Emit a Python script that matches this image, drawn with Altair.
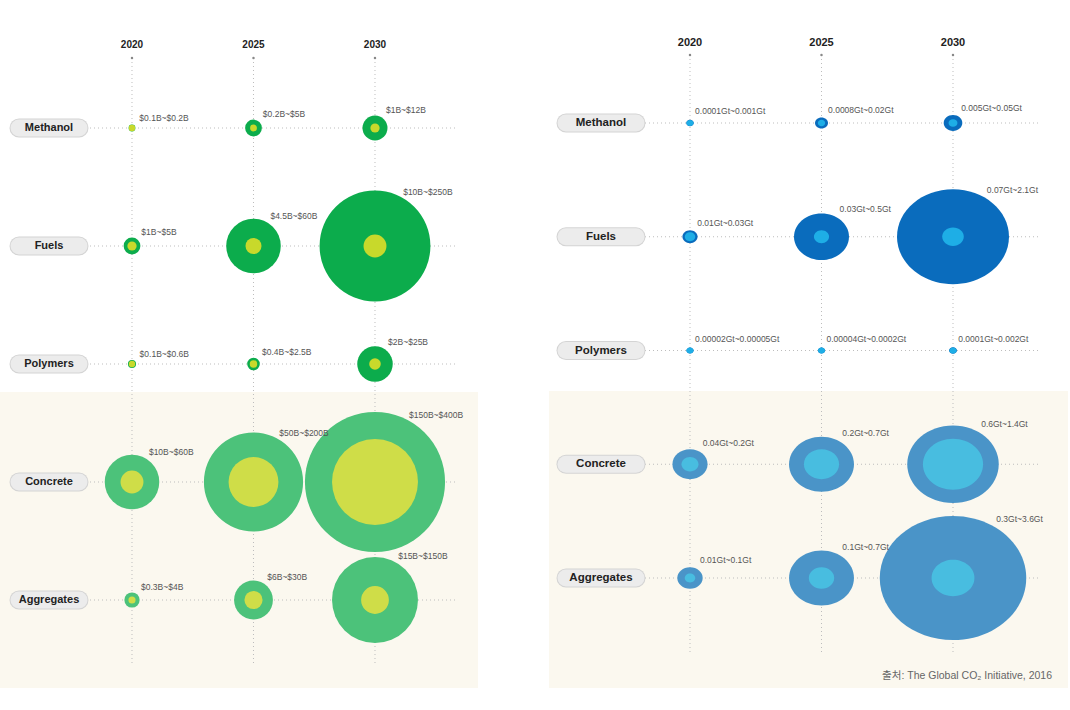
import altair as alt
import pandas as pd

products = ["Methanol", "Fuels", "Polymers", "Concrete", "Aggregates"]
groups = ["top", "top", "top", "bottom", "bottom"]
years = [2020, 2025, 2030]

market_min = [[0.1, 0.2, 1], [1, 4.5, 10], [0.1, 0.4, 2], [10, 50, 150], [0.3, 6, 15]]
market_max = [[0.2, 5, 12], [5, 60, 250], [0.6, 2.5, 25], [60, 200, 400], [4, 30, 150]]
market_labels = [
    ["$0.1B~$0.2B", "$0.2B~$5B", "$1B~$12B"],
    ["$1B~$5B", "$4.5B~$60B", "$10B~$250B"],
    ["$0.1B~$0.6B", "$0.4B~$2.5B", "$2B~$25B"],
    ["$10B~$60B", "$50B~$200B", "$150B~$400B"],
    ["$0.3B~$4B", "$6B~$30B", "$15B~$150B"],
]

co2_min = [[0.0001, 0.0008, 0.005], [0.01, 0.03, 0.07], [0.00002, 0.00004, 0.0001],
           [0.04, 0.2, 0.6], [0.01, 0.1, 0.3]]
co2_max = [[0.001, 0.02, 0.05], [0.03, 0.5, 2.1], [0.00005, 0.0002, 0.002],
           [0.2, 0.7, 1.4], [0.1, 0.7, 3.6]]
co2_labels = [
    ["0.0001Gt~0.001Gt", "0.0008Gt~0.02Gt", "0.005Gt~0.05Gt"],
    ["0.01Gt~0.03Gt", "0.03Gt~0.5Gt", "0.07Gt~2.1Gt"],
    ["0.00002Gt~0.00005Gt", "0.00004Gt~0.0002Gt", "0.0001Gt~0.002Gt"],
    ["0.04Gt~0.2Gt", "0.2Gt~0.7Gt", "0.6Gt~1.4Gt"],
    ["0.01Gt~0.1Gt", "0.1Gt~0.7Gt", "0.3Gt~3.6Gt"],
]

source_note = "출처: The Global CO₂ Initiative, 2016"

FONT = "Liberation Sans, Arial, Noto Sans CJK KR, sans-serif"
ELLIPSE = "M -1.18 0 A 1.18 1 0 1 0 1.18 0 A 1.18 1 0 1 0 -1.18 0 Z"


def build_df(mins, maxs, labels):
    rows = []
    for i, p in enumerate(products):
        for j, y in enumerate(years):
            rows.append(dict(product=p, row=i, group=groups[i], year=y,
                             vmin=mins[i][j], vmax=maxs[i][j], label=labels[i][j]))
    return pd.DataFrame(rows)


def panel(df, W, H, xdom, ydom, size_max, size_range, colors, pill, hgrid, vgrid,
          year_y, beige, dx_expr, dy_expr, year_font, pill_font, shape="circle", extra=None):
    xs = alt.Scale(domain=xdom, range=[0, W], zero=False, nice=False)
    ys = alt.Scale(domain=ydom, range=[0, H], zero=False, nice=False)
    X = alt.X("year:Q", scale=xs, axis=None)
    Y = alt.Y("row:Q", scale=ys, axis=None)
    size_scale = alt.Scale(domain=[0, size_max], range=size_range, zero=True, nice=False)
    color_scale = alt.Scale(domain=["outer_top", "outer_bottom", "inner_top", "inner_bottom"],
                            range=colors)

    one = pd.DataFrame({"k": [0]})
    prod_df = pd.DataFrame({"product": products, "row": list(range(len(products)))})
    year_df = pd.DataFrame({"year": years})

    bg = alt.Chart(one).mark_rect(color="#fbf8ef").encode(
        x=alt.value(beige[0]), x2=alt.value(beige[1]),
        y=alt.value(beige[2]), y2=alt.value(beige[3]))

    hlines = alt.Chart(prod_df).mark_rule(color="#bdbdbd", strokeDash=[1, 3], strokeWidth=1).encode(
        y=Y, x=alt.value(hgrid[0]), x2=alt.value(hgrid[1]))
    vlines = alt.Chart(year_df).mark_rule(color="#bdbdbd", strokeDash=[1, 3], strokeWidth=1).encode(
        x=X, y=alt.value(vgrid[0]), y2=alt.value(vgrid[1]))
    dots = alt.Chart(year_df).mark_point(filled=True, color="#888", size=6, opacity=1).encode(
        x=X, y=alt.value(vgrid[0]))
    year_text = alt.Chart(year_df).mark_text(fontWeight="bold", fontSize=year_font, color="#222",
                                             font=FONT).encode(
        x=X, y=alt.value(year_y), text="year:N")

    pill_shadow = alt.Chart(prod_df).mark_rule(color="#d4d4d4", strokeWidth=19, strokeCap="round").encode(
        y=Y, x=alt.value(pill[0] + 9), x2=alt.value(pill[1] - 9))
    pill_body = alt.Chart(prod_df).mark_rule(color="#ececec", strokeWidth=17, strokeCap="round").encode(
        y=Y, x=alt.value(pill[0] + 9), x2=alt.value(pill[1] - 9))
    pill_text = alt.Chart(prod_df).mark_text(fontWeight="bold", fontSize=pill_font, color="#222",
                                             font=FONT).encode(
        y=Y, x=alt.value((pill[0] + pill[1]) / 2), text="product:N")

    outer = alt.Chart(df).transform_calculate(tier="'outer_' + datum.group").mark_point(
        shape=shape, filled=True, opacity=1, strokeWidth=0).encode(
        x=X, y=Y,
        size=alt.Size("vmax:Q", scale=size_scale, legend=None),
        color=alt.Color("tier:N", scale=color_scale, legend=None))
    inner = alt.Chart(df).transform_calculate(tier="'inner_' + datum.group").mark_point(
        shape=shape, filled=True, opacity=1, strokeWidth=0).encode(
        x=X, y=Y,
        size=alt.Size("vmin:Q", scale=size_scale, legend=None),
        color=alt.Color("tier:N", scale=color_scale, legend=None))
    labels = alt.Chart(df).mark_text(align="left", baseline="middle", fontSize=8.5, color="#555",
                                     font=FONT, dx=alt.expr(dx_expr), dy=alt.expr(dy_expr)).encode(
        x=X, y=Y, text="label:N")

    layers = [bg, hlines, vlines, dots, year_text, pill_shadow, pill_body, pill_text, outer, inner, labels]
    if extra is not None:
        layers.append(extra)
    return alt.layer(*layers).properties(width=W, height=H)


left_df = build_df(market_min, market_max, market_labels)
right_df = build_df(co2_min, co2_max, co2_labels)

H = 710
LW = 478
RW = 522

# Vega symbols: radius = sqrt(size) / 2
left_r = "(sqrt(36 + datum.vmax * 19600 / 400) / 2)"
left = panel(
    left_df, LW, H,
    xdom=[2014.568, 2014.568 + LW / 24.3],
    ydom=[-128 / 118, (H - 128) / 118],
    size_max=400, size_range=[36, 19636],
    colors=["#0cac4c", "#4cc27a", "#c8d92b", "#cfdd48"],
    pill=(10, 88), hgrid=(90, 455), vgrid=(58, 665), year_y=45,
    beige=(0, 478, 392, 688),
    dx_expr=f"0.4 * {left_r} + 6", dy_expr=f"-(0.85 * {left_r} + 7)",
    year_font=10, pill_font=11,
)

right_r = "(sqrt(36 + datum.vmax * 15376 / 3.6) / 2)"
src = alt.Chart(pd.DataFrame({"note": [source_note]})).mark_text(
    align="right", baseline="middle", fontSize=10.5, color="#666", font=FONT).encode(
    x=alt.value(504), y=alt.value(676), text="note:N")
right = panel(
    right_df, RW, H,
    xdom=[2020 - 142 / 26.3, 2020 - 142 / 26.3 + RW / 26.3],
    ydom=[-123 / 113.75, (H - 123) / 113.75],
    size_max=3.6, size_range=[36, 15412],
    colors=["#0a6cbd", "#4a94c8", "#1eaee6", "#48bde0"],
    pill=(9, 97), hgrid=(97, 492), vgrid=(55, 655), year_y=43,
    beige=(1, 520, 391, 688),
    dx_expr=f"0.55 * 1.18 * {right_r} + 3", dy_expr=f"-(0.8 * {right_r} + 9)",
    year_font=11, pill_font=11.5, shape=ELLIPSE, extra=src,
)

chart = alt.hconcat(left, right, spacing=70, bounds="flush").resolve_scale(
    size="independent", color="independent"
).properties(
    padding=0, background="white"
).configure_view(stroke=None)

chart.save("out.html", embed_options={"renderer": "svg", "actions": False})
